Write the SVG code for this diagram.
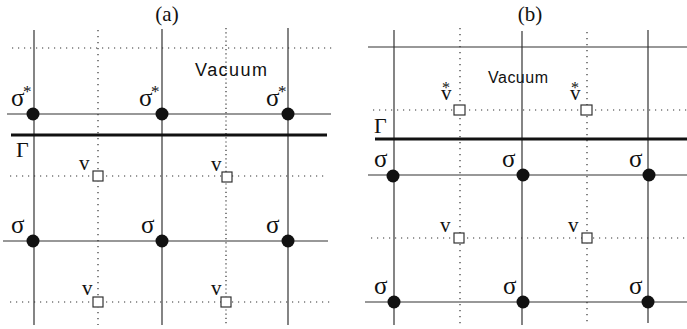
<svg xmlns="http://www.w3.org/2000/svg" width="687" height="329" viewBox="0 0 687 329">
<style>
.solid{stroke:#333;stroke-width:1.2;fill:none}
.thick{stroke:#111;stroke-width:3.2;fill:none}
.dot{stroke:#333;stroke-width:1.2;stroke-dasharray:1.2 4.8;fill:none}
.dot2{stroke:#333;stroke-width:1.2;stroke-dasharray:1.2 3;fill:none}
.node{fill:#111}
.sq{fill:#fff;stroke:#333;stroke-width:1.2}
.serif{font-family:"Liberation Serif","Times New Roman",serif;fill:#111}
.sans{font-family:"Liberation Sans",Arial,sans-serif;fill:#111}
.g{font-size:25px}
.v{font-size:21px}
.ast{font-size:17px}
</style>
<rect width="687" height="329" fill="#fff"/>
<g id="connectors">
<line class="solid" x1="34" y1="30" x2="34" y2="325"/>
<line class="solid" x1="162" y1="29" x2="162" y2="325"/>
<line class="solid" x1="288" y1="28" x2="288" y2="325"/>
<line class="dot" x1="98" y1="30" x2="98" y2="325"/>
<line class="dot2" x1="226" y1="28" x2="226" y2="325"/>
<line class="dot" x1="12" y1="48" x2="332" y2="48"/>
<line class="solid" x1="7" y1="114" x2="331" y2="114"/>
<line class="thick" x1="11" y1="135" x2="327" y2="135"/>
<line class="dot" x1="10" y1="176" x2="328" y2="176"/>
<line class="solid" x1="3" y1="241" x2="328" y2="241"/>
<line class="dot" x1="10" y1="302" x2="330" y2="302"/>
<line class="solid" x1="394" y1="30" x2="394" y2="325"/>
<line class="solid" x1="522" y1="31" x2="522" y2="325"/>
<line class="solid" x1="648" y1="30" x2="648" y2="323"/>
<line class="dot" x1="460" y1="28" x2="460" y2="325"/>
<line class="dot" x1="587" y1="32" x2="587" y2="325"/>
<line class="solid" x1="368" y1="47" x2="687" y2="47"/>
<line class="dot" x1="373" y1="110" x2="687" y2="110"/>
<line class="thick" x1="375" y1="139" x2="687" y2="139"/>
<line class="solid" x1="368" y1="175" x2="687" y2="175"/>
<line class="dot" x1="371" y1="238" x2="687" y2="238"/>
<line class="solid" x1="365" y1="302" x2="687" y2="302"/>
</g>
<g id="titles">
<text class="serif" x="167" y="21" font-size="21" text-anchor="middle">(a)</text>
<text class="serif" x="530" y="21" font-size="21" text-anchor="middle">(b)</text>
<text class="sans" x="195" y="76" font-size="18" textLength="72">Vacuum</text>
<text class="sans" x="488" y="83" font-size="16" textLength="60">Vacuum</text>
<text class="serif" x="16" y="157" font-size="22">Γ</text>
<text class="serif" x="374" y="133" font-size="22">Γ</text>
</g>
<g id="a-s1"><circle class="node" cx="33" cy="114" r="6.5"/><text class="serif g" x="11" y="106">σ</text><text class="serif ast" x="23" y="97">*</text></g>
<g id="a-s2"><circle class="node" cx="162" cy="114" r="6.5"/><text class="serif g" x="139" y="106">σ</text><text class="serif ast" x="151" y="97">*</text></g>
<g id="a-s3"><circle class="node" cx="288" cy="114" r="6.5"/><text class="serif g" x="266" y="106">σ</text><text class="serif ast" x="278" y="97">*</text></g>
<g id="a-v1"><rect class="sq" x="93" y="171" width="10" height="10"/><text class="serif v" x="79" y="170">v</text></g>
<g id="a-v2"><rect class="sq" x="222" y="172" width="10" height="10"/><text class="serif v" x="211" y="171">v</text></g>
<g id="a-s4"><circle class="node" cx="33" cy="241" r="6.5"/><text class="serif g" x="11" y="233">σ</text></g>
<g id="a-s5"><circle class="node" cx="162" cy="241" r="6.5"/><text class="serif g" x="141" y="233">σ</text></g>
<g id="a-s6"><circle class="node" cx="288" cy="241" r="6.5"/><text class="serif g" x="266" y="233">σ</text></g>
<g id="a-v3"><rect class="sq" x="93" y="297" width="10" height="10"/><text class="serif v" x="82" y="295">v</text></g>
<g id="a-v4"><rect class="sq" x="221" y="297" width="10" height="10"/><text class="serif v" x="211" y="295">v</text></g>
<g id="b-v1"><rect class="sq" x="454" y="105" width="11" height="10"/><text class="serif v" x="441" y="100">v</text><text class="serif" x="442" y="93" font-size="16">*</text></g>
<g id="b-v2"><rect class="sq" x="581" y="105" width="11" height="10"/><text class="serif v" x="570" y="100">v</text><text class="serif" x="571" y="93" font-size="16">*</text></g>
<g id="b-s1"><circle class="node" cx="393" cy="176" r="6.5"/><text class="serif g" x="374" y="167">σ</text></g>
<g id="b-s2"><circle class="node" cx="523" cy="175" r="6.5"/><text class="serif g" x="502" y="167">σ</text></g>
<g id="b-s3"><circle class="node" cx="649" cy="175" r="6.5"/><text class="serif g" x="629" y="167">σ</text></g>
<g id="b-v3"><rect class="sq" x="454" y="233" width="10" height="10"/><text class="serif v" x="440" y="232">v</text></g>
<g id="b-v4"><rect class="sq" x="582" y="233" width="10" height="10"/><text class="serif v" x="568" y="232">v</text></g>
<g id="b-s4"><circle class="node" cx="394" cy="302" r="6.5"/><text class="serif g" x="374" y="294">σ</text></g>
<g id="b-s5"><circle class="node" cx="523" cy="302" r="6.5"/><text class="serif g" x="503" y="294">σ</text></g>
<g id="b-s6"><circle class="node" cx="648" cy="302" r="6.5"/><text class="serif g" x="629" y="294">σ</text></g>
</svg>
